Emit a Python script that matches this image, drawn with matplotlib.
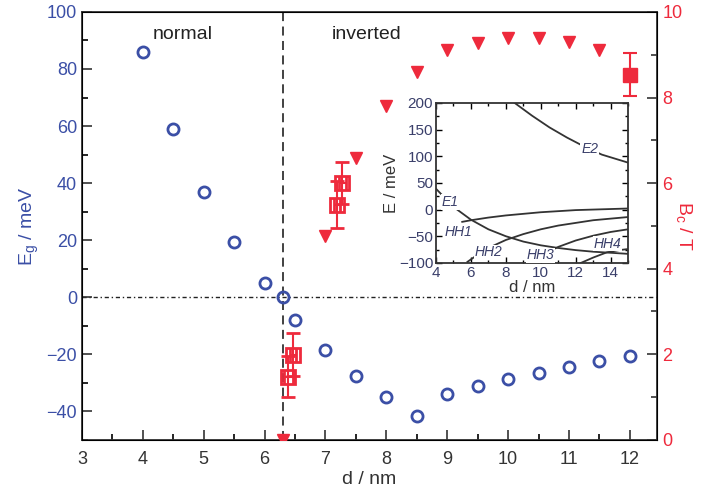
import numpy as np
import matplotlib
matplotlib.use("Agg")
import matplotlib.pyplot as plt
from matplotlib.ticker import MultipleLocator

plt.rcParams['font.family'] = ['Liberation Sans', 'DejaVu Sans']

BLUE = '#3b4fa6'
RED = '#ee2a3c'

# band gap (blue circles)
d_gap = [4.0, 4.5, 5.0, 5.5, 6.0, 6.3, 6.5, 7.0, 7.5, 8.0, 8.5, 9.0, 9.5, 10.0, 10.5, 11.0, 11.5, 12.0]
eg = [86, 59, 37, 19.5, 5, 0, -8, -18.5, -27.5, -35, -41.5, -34, -31, -28.5, -26.5, -24.5, -22.5, -20.5]

# critical field, calculated (red triangles)
d_bc = [6.3, 7.0, 7.5, 8.0, 8.5, 9.0, 9.5, 10.0, 10.5, 11.0, 11.5]
bc = [0.0, 4.77, 6.59, 7.8, 8.6, 9.11, 9.28, 9.39, 9.39, 9.3, 9.11]

# critical field, measured (open squares)
d_meas = [6.39, 6.47, 7.19, 7.28]
bc_meas = [1.47, 1.99, 5.49, 6.0]
bc_err = [0.48, 0.5, 0.55, 0.5]
d_err = [0.07, 0.05, 0.05, 0.05]

# filled square
d_fill = [12.0]
bc_fill = [8.53]
bc_fill_err = [0.5]

# inset subband curves (d / nm, E / meV)
e2_d = [8.5, 9.5, 10.5, 11.5, 12.5, 13.5, 15.0]
e2_e = [200, 176, 154, 135, 118, 103, 88]
e1_d = [4.0, 4.5, 5.0, 6.0, 7.0, 8.0, 9.0, 10.0, 11.0, 12.0, 13.0, 14.0, 15.0]
e1_e = [39, 22, 5, -19, -37, -50, -60, -67, -72, -76, -79, -81, -83]
hh1_d = [5.5, 6.0, 7.0, 8.0, 9.0, 10.0, 11.0, 12.0, 13.0, 14.0, 15.0]
hh1_e = [-23, -20, -15, -11, -8, -5, -3, -1, 0, 1, 2]
hh2_d = [5.8, 6.5, 7.0, 8.0, 9.0, 10.0, 11.0, 12.0, 13.0, 14.0, 15.0]
hh2_e = [-98, -82, -72, -57, -46, -37, -30, -25, -20, -17, -14]
hh3_d = [9.3, 10.0, 11.0, 12.0, 13.0, 14.0, 15.0]
hh3_e = [-100, -86, -70, -58, -49, -42, -37]
hh4_d = [12.3, 13.0, 13.8, 14.5, 15.0]
hh4_e = [-100, -90, -80, -76, -74]

fig = plt.figure(figsize=(7.06, 4.97), dpi=100)
ax = fig.add_axes([0.116, 0.115, 0.815, 0.861])
ax2 = ax.twinx()

ax.axvline(6.3, color='#333333', ls=(0, (5, 3)), lw=1.3, zorder=1)
ax.axhline(0, color='#222222', ls=(0, (3, 2, 1, 2)), lw=1.0, zorder=1)

ax.plot(d_gap, eg, 'o', mfc='none', mec=BLUE, mew=2, ms=8, zorder=3)

ax2.plot(d_bc, bc, 'v', color=RED, ms=8, zorder=3)
ax2.errorbar(d_meas, bc_meas, yerr=bc_err, xerr=d_err, fmt='s', mfc='none', mec=RED,
             mew=2, ms=10, ecolor=RED, elinewidth=1.5, capsize=5, capthick=1.5)
ax2.errorbar(d_fill, bc_fill, yerr=bc_fill_err, fmt='s', color=RED, ms=10,
             elinewidth=1.5, capsize=5, capthick=1.5)

ax.set_xlim(3, 12.45)
ax.set_ylim(-50, 100)
ax2.set_ylim(0, 10)

ax.xaxis.set_major_locator(MultipleLocator(1))
ax.xaxis.set_minor_locator(MultipleLocator(0.5))
ax.yaxis.set_major_locator(MultipleLocator(20))
ax.yaxis.set_minor_locator(MultipleLocator(10))
ax2.yaxis.set_major_locator(MultipleLocator(2))
ax2.yaxis.set_minor_locator(MultipleLocator(1))

ax.tick_params(which='both', direction='in', top=False, right=False, labelsize=13)
ax.tick_params(which='major', length=7, width=1.2)
ax.tick_params(which='minor', length=4, width=1.2)
ax.tick_params(axis='x', colors='#333333', pad=8)
ax.tick_params(axis='y', labelcolor=BLUE, color='#333333')
ax2.tick_params(which='both', direction='in', labelsize=13, labelcolor=RED, color='#333333', width=1.2)
ax2.tick_params(which='major', length=7)
ax2.tick_params(which='minor', length=4)

for sp in ax.spines.values():
    sp.set_linewidth(1.3)
    sp.set_color('#333333')

ax.set_xlabel('d / nm', fontsize=14, color='#333333', labelpad=2)
ax.set_ylabel('E$_\\mathregular{g}$ / meV', fontsize=14, color=BLUE)
ax2.set_ylabel('B$_\\mathregular{c}$ / T', fontsize=14, color=RED, rotation=270, labelpad=8)

ax.text(4.66, 92, 'normal', fontsize=14, color='#222222', ha='center', va='center')
ax.text(7.67, 92, 'inverted', fontsize=14, color='#222222', ha='center', va='center')

# inset
ins = fig.add_axes([0.6176, 0.471, 0.272, 0.322])
for xs, ys in [(e2_d, e2_e), (e1_d, e1_e), (hh1_d, hh1_e), (hh2_d, hh2_e), (hh3_d, hh3_e), (hh4_d, hh4_e)]:
    ins.plot(xs, ys, color='#333333', lw=1.3)
ins.set_xlim(4, 15)
ins.set_ylim(-100, 200)
ins.xaxis.set_major_locator(MultipleLocator(2))
ins.xaxis.set_minor_locator(MultipleLocator(1))
ins.yaxis.set_major_locator(MultipleLocator(50))
ins.yaxis.set_minor_locator(MultipleLocator(25))
ins.tick_params(which='both', direction='in', top=True, right=True, labelsize=11, labelcolor='#3a3f6a', width=1)
ins.tick_params(which='major', length=4, pad=2)
ins.tick_params(which='minor', length=2)
for sp in ins.spines.values():
    sp.set_linewidth(1.3)
    sp.set_color('#333333')
ins.set_xlabel('d / nm', fontsize=12, color='#333333', labelpad=0)
ins.set_ylabel('E / meV', fontsize=12, color='#333333', labelpad=0)

lab_kw = dict(fontsize=10, style='italic', color='#3a3f6a', ha='center', va='center')
for s, x, y in [('E2', 12.8, 114), ('E1', 4.8, 14), ('HH1', 5.3, -42),
                ('HH2', 7.0, -80), ('HH3', 10.0, -86), ('HH4', 13.8, -64)]:
    ins.text(x, y, s, bbox=dict(facecolor='white', edgecolor='none', pad=0.5), **lab_kw)

fig.savefig('out.png', dpi=100)
